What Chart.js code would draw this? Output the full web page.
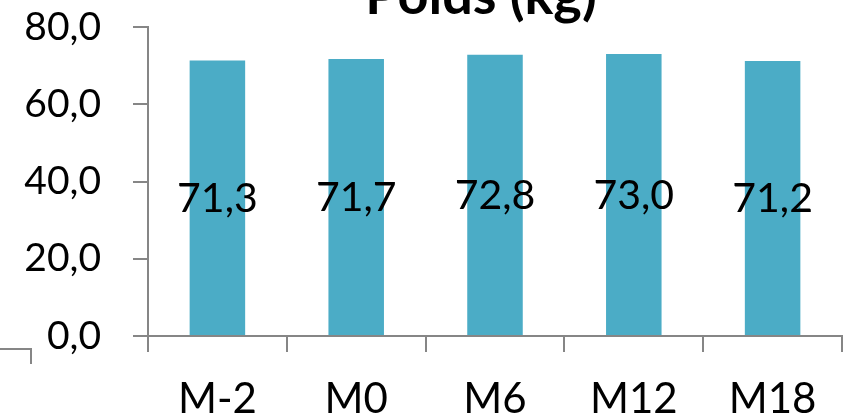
<!DOCTYPE html>
<html>
<head>
<meta charset="utf-8">
<script src="https://cdn.jsdelivr.net/npm/chart.js@4"></script>
<style>
  html, body { margin: 0; padding: 0; background: #fff; }
  #wrap { width: 843px; height: 419px; position: relative; }
</style>
</head>
<body>
<div id="wrap"><canvas id="c" width="843" height="419"></canvas></div>
<script>
// Poids moyen par visite
const categories = ['M-2', 'M0', 'M6', 'M12', 'M18'];
const poids = [71.3, 71.7, 72.8, 73.0, 71.2];
const titleText = 'Poids (kg)';
const yMin = 0, yMax = 80, yStep = 20;

const AXIS = '#868686';
const BAR = '#4BACC6';
const FONT = 'Lato, "Liberation Sans", Arial, sans-serif';

const fmt = v => v.toFixed(1).replace('.', ',');

// Title, partly above the canvas top edge
const titlePlugin = {
  id: 'topTitle',
  afterDraw(chart) {
    const { ctx } = chart;
    ctx.save();
    ctx.font = 'bold 54px ' + FONT;
    ctx.fillStyle = '#000';
    ctx.textAlign = 'center';
    ctx.textBaseline = 'alphabetic';
    ctx.fillText(titleText, 481, 14);
    ctx.restore();
  }
};

// Value labels in the middle of each bar
const valueLabels = {
  id: 'valueLabels',
  afterDatasetsDraw(chart) {
    const { ctx } = chart;
    const meta = chart.getDatasetMeta(0);
    ctx.save();
    ctx.font = '41px ' + FONT;
    ctx.fillStyle = '#000';
    ctx.textAlign = 'center';
    ctx.textBaseline = 'middle';
    meta.data.forEach((el, i) => {
      const y = (el.y + el.base) / 2;
      ctx.fillText(fmt(poids[i]), el.x, y + 1);
    });
    ctx.restore();
  }
};

// Stray axis corner at bottom-left
const cornerMark = {
  id: 'cornerMark',
  afterDraw(chart) {
    const { ctx } = chart;
    ctx.save();
    ctx.strokeStyle = AXIS;
    ctx.lineWidth = 2;
    ctx.beginPath();
    ctx.moveTo(0, 349);
    ctx.lineTo(31, 349);
    ctx.lineTo(31, 364);
    ctx.stroke();
    ctx.restore();
  }
};

new Chart(document.getElementById('c'), {
  type: 'bar',
  data: {
    labels: categories,
    datasets: [{
      data: poids,
      backgroundColor: BAR,
      borderWidth: 0,
      categoryPercentage: 1,
      barPercentage: 0.4
    }]
  },
  options: {
    responsive: false,
    animation: false,
    devicePixelRatio: 1,
    layout: { padding: { top: 0, right: 1, left: 0, bottom: 0 } },
    plugins: {
      legend: { display: false },
      title: { display: false },
      tooltip: { enabled: false }
    },
    scales: {
      x: {
        offset: true,
        grid: {
          display: true,
          offset: true,
          drawOnChartArea: false,
          drawTicks: true,
          tickLength: 16,
          color: AXIS,
          lineWidth: 2
        },
        border: { display: true, color: AXIS, width: 2 },
        ticks: {
          color: '#000',
          font: { family: FONT, size: 42 },
          padding: 22,
          maxRotation: 0
        },
        afterFit(s) { s.height = 83; }
      },
      y: {
        min: yMin,
        max: yMax,
        grid: {
          display: true,
          drawOnChartArea: false,
          drawTicks: true,
          tickLength: 15,
          color: AXIS,
          lineWidth: 2
        },
        border: { display: true, color: AXIS, width: 2 },
        ticks: {
          stepSize: yStep,
          color: '#000',
          font: { family: FONT, size: 39 },
          padding: 32,
          callback: v => fmt(v)
        },
        afterFit(s) { s.width = 148; s.paddingTop = 27; s.paddingBottom = 0; }
      }
    }
  },
  plugins: [valueLabels, titlePlugin, cornerMark]
});
</script>
</body>
</html>
